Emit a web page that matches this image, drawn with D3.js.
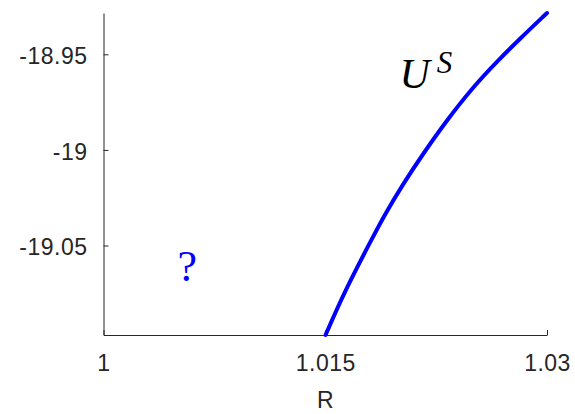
<!DOCTYPE html>
<html>
<head>
<meta charset="utf-8">
<script src="https://cdn.jsdelivr.net/npm/d3@7"></script>
<style>
  body { margin: 0; background: #fff; }
  svg { display: block; }
</style>
</head>
<body>
<div id="chart"></div>
<script>
// curve
var rValues = [1.01502, 1.01634, 1.01814, 1.01893, 1.02028, 1.02163, 1.02322, 1.02501, 1.02660, 1.02817, 1.0300];
var uValues = [-19.0968, -19.0735, -19.0468, -19.0351, -19.0176, -19.0019, -18.9845, -18.9670, -18.9539, -18.9418, -18.9284];
var xTicks = [1, 1.015, 1.03];
var yTicks = [-19.05, -19, -18.95];
var xLimits = [1, 1.03];

var svgwidth = 575;
var svgheight = 414;
var margin = { top: 13, bottom: 79, left: 103.5, right: 28 };
var width = svgwidth - margin.left - margin.right;
var height = svgheight - margin.top - margin.bottom;
var axisColor = "#262626";
var tickFont = "'Liberation Sans', Arial, sans-serif";

var svg = d3.select("#chart")
  .append("svg")
  .attr("width", svgwidth)
  .attr("height", svgheight);

var chartGroup = svg.append("g")
  .attr("transform", `translate(${margin.left}, ${margin.top})`);

var data = rValues.map(function(r, i) { return { r: r, u: uValues[i] }; });

var xscale = d3.scaleLinear()
  .domain(xLimits)
  .range([0, width]);

var yscale = d3.scaleLinear()
  .domain(d3.extent(uValues))
  .range([height, 0]);

var fmt = function(d) { return String(+d.toFixed(4)); };

var xaxis = d3.axisBottom(xscale)
  .tickValues(xTicks)
  .tickFormat(fmt)
  .tickSizeInner(-5)
  .tickSizeOuter(0)
  .tickPadding(20);

var yaxis = d3.axisLeft(yscale)
  .tickValues(yTicks)
  .tickFormat(fmt)
  .tickSizeInner(-5)
  .tickSizeOuter(0)
  .tickPadding(16);

var gx = chartGroup.append("g")
  .attr("transform", `translate(0, ${height})`)
  .call(xaxis);
var gy = chartGroup.append("g")
  .call(yaxis);

[gx, gy].forEach(function(g) {
  g.select(".domain").attr("stroke", axisColor);
  g.selectAll(".tick line").attr("stroke", axisColor);
  g.selectAll(".tick text")
    .attr("fill", axisColor)
    .style("font-family", tickFont)
    .style("font-size", "23px")
    .style("letter-spacing", "0.5px");
});
gy.selectAll(".tick text").attr("dy", "0.4em");

// axis label
chartGroup.append("text")
  .attr("x", width / 2)
  .attr("y", height + 73)
  .attr("text-anchor", "middle")
  .attr("fill", axisColor)
  .style("font-family", tickFont)
  .style("font-size", "23px")
  .text("R");

var line = d3.line()
  .x(d => xscale(d.r))
  .y(d => yscale(d.u))
  .curve(d3.curveBasis);

chartGroup.append("path")
  .datum(data)
  .attr("fill", "none")
  .attr("stroke", "#0000ff")
  .attr("stroke-width", 4)
  .attr("stroke-linecap", "round")
  .attr("d", line);

// annotations
chartGroup.append("text")
  .attr("x", 74)
  .attr("y", 268)
  .attr("fill", "#0000ff")
  .style("font-family", "'Liberation Serif', 'Times New Roman', serif")
  .style("font-size", "44px")
  .text("?");

var lab = chartGroup.append("text")
  .attr("x", 296)
  .attr("y", 75)
  .attr("fill", "#000")
  .style("font-family", "'Liberation Serif', 'Times New Roman', serif")
  .style("font-style", "italic");
lab.append("tspan").style("font-size", "42px").text("U");
lab.append("tspan").attr("dx", 7).attr("dy", -15).style("font-size", "31px").text("S");
</script>
</body>
</html>
